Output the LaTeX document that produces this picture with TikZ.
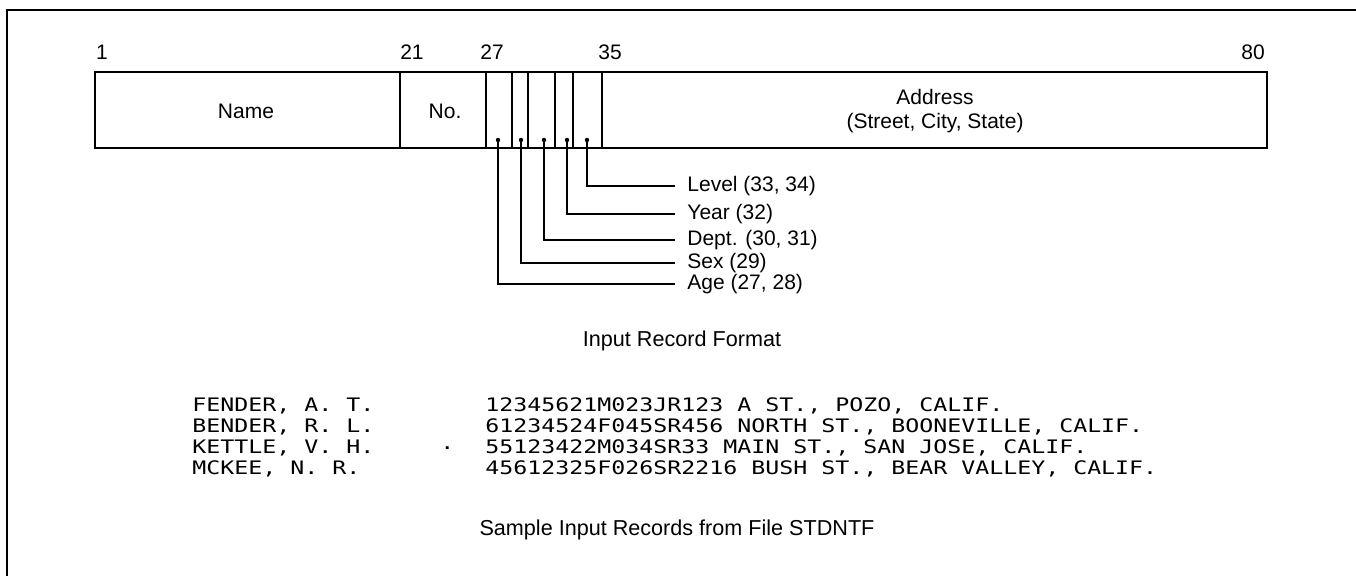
\documentclass[tikz,border=0pt]{standalone}
\usepackage{fontspec}
\setmainfont{Liberation Sans}
\newfontfamily\prt[FakeStretch=1.25]{DejaVu Sans Mono}
\begin{document}
\begin{tikzpicture}[x=0.5pt,y=-0.5pt,
  lbl/.style={font=\fontsize{10.5}{12}\selectfont, inner sep=0pt},
  capt/.style={font=\fontsize{10.8}{12}\selectfont, inner sep=0pt},
  fld/.style={font=\fontsize{10.5}{12}\selectfont, inner ysep=0pt, inner xsep=6pt, anchor=west},
  rec/.style={font=\prt\fontsize{9.3}{11}\selectfont, inner sep=0pt, anchor=west},
  boxline/.style={line width=1.2pt},
  lead/.style={line width=1pt},
  dotm/.style={circle, fill=black, inner sep=0pt, minimum size=2.2pt}]
\useasboundingbox (0,0) rectangle (1356,576);
% frame
\draw[line width=1pt] (1356,10) -- (7,10) -- (7,576);
% record box
\draw[boxline] (95,72) rectangle (1267,148);
\foreach \x in {400,486,512,528,555,573,602} \draw[boxline] (\x,72) -- (\x,148);
% column numbers
\node[lbl] (n1) at (102,52) {1};
\node[lbl] (n21) at (412,52) {21};
\node[lbl] (n27) at (492,52) {27};
\node[lbl] (n35) at (610,52) {35};
\node[lbl] (n80) at (1253,52) {80};
% field texts
\node[lbl] (name) at (246,111) {Name};
\node[lbl] (no) at (445,111) {No.};
\node[lbl, align=center] (addr) at (935,111) {Address\\(Street, City, State)};
% dots
\node[dotm] (dage) at (498,140) {};
\node[dotm] (dsex) at (521,140) {};
\node[dotm] (ddept) at (544,140) {};
\node[dotm] (dyear) at (567,140) {};
\node[dotm] (dlevel) at (587,140) {};
% labels
\node[fld] (llevel) at (675,186) {Level (33, 34)};
\node[fld] (lyear) at (675,214) {Year (32)};
\node[fld] (ldept) at (675,240) {Dept. (30, 31)};
\node[fld] (lsex) at (675,263) {Sex (29)};
\node[fld] (lage) at (675,284) {Age (27, 28)};
\draw[lead] (dlevel.center) |- (llevel.west);
\draw[lead] (dyear.center) |- (lyear.west);
\draw[lead] (ddept.center) |- (ldept.west);
\draw[lead] (dsex.center) |- (lsex.west);
\draw[lead] (dage.center) |- (lage.west);
% caption
\node[capt] (cap1) at (682,341) {Input Record Format};
% records
\node[rec] (r1a) at (192,406) {FENDER, A. T.};
\node[rec] (r2a) at (192,427) {BENDER, R. L.};
\node[rec] (r3a) at (192,448) {KETTLE, V. H.};
\node[rec] (r4a) at (192,469) {MCKEE, N. R.};
\node[rec] (dot) at (440,448) {.};
\node[rec] (r1b) at (485,406) {12345621M023JR123 A ST., POZO, CALIF.};
\node[rec] (r2b) at (485,427) {61234524F045SR456 NORTH ST., BOONEVILLE, CALIF.};
\node[rec] (r3b) at (485,448) {55123422M034SR33 MAIN ST., SAN JOSE, CALIF.};
\node[rec] (r4b) at (485,469) {45612325F026SR2216 BUSH ST., BEAR VALLEY, CALIF.};
\node[capt] (cap2) at (677,530) {Sample Input Records from File STDNTF};
\end{tikzpicture}
\end{document}
